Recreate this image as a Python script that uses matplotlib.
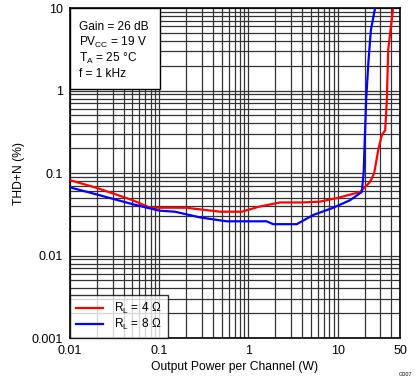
import matplotlib
matplotlib.use('Agg')
import numpy as np
import matplotlib.pyplot as plt
from matplotlib.ticker import LogLocator, NullFormatter, FixedLocator

plt.rcParams['font.family'] = ['Liberation Sans', 'DejaVu Sans']

# THD+N vs output power
power_4ohm = [0.01, 0.02, 0.05, 0.079, 0.2, 0.48, 0.84, 1.3, 2.26, 4.0, 6.3, 10.0, 17.8,
              23.0, 25.6, 28.4, 31.2, 34.0, 35.5, 36.7, 41.5]
thd_4ohm = [0.082, 0.066, 0.047, 0.038, 0.038, 0.034, 0.034, 0.039, 0.044, 0.044, 0.045,
            0.050, 0.059, 0.078, 0.10, 0.19, 0.29, 0.33, 0.77, 3.1, 9.5]

power_8ohm = [0.01, 0.02, 0.05, 0.1, 0.15, 0.286, 0.57, 1.0, 1.6, 1.89, 3.47, 5.3, 8.9,
              13.8, 18.6, 19.5, 19.9, 20.8, 22.1, 23.5, 26.2]
thd_8ohm = [0.067, 0.055, 0.042, 0.035, 0.034, 0.029, 0.026, 0.026, 0.026, 0.024, 0.024,
            0.031, 0.038, 0.047, 0.059, 0.10, 0.19, 0.77, 2.3, 5.4, 10.0]

x_ticks = [0.01, 0.1, 1, 10, 50]
x_labels = ['0.01', '0.1', '1', '10', '50']
y_ticks = [0.001, 0.01, 0.1, 1, 10]
y_labels = ['0.001', '0.01', '0.1', '1', '10']

fig = plt.figure(figsize=(4.19, 3.82), dpi=100)
ax = fig.add_axes([0.167, 0.115, 0.788, 0.864])

ax.plot(power_4ohm, thd_4ohm, color='#ff0000', lw=1.6, label='R$_\\mathregular{L}$ = 4 Ω', zorder=3)
ax.plot(power_8ohm, thd_8ohm, color='#0000ff', lw=1.6, label='R$_\\mathregular{L}$ = 8 Ω', zorder=3)

ax.set_xscale('log')
ax.set_yscale('log')
ax.set_xlim(0.01, 50)
ax.set_ylim(0.001, 10)

ax.xaxis.set_major_locator(FixedLocator(x_ticks))
ax.set_xticklabels(x_labels)
ax.xaxis.set_minor_locator(LogLocator(base=10, subs=np.arange(2, 10)))
ax.xaxis.set_minor_formatter(NullFormatter())
ax.yaxis.set_major_locator(FixedLocator(y_ticks))
ax.set_yticklabels(y_labels)
ax.yaxis.set_minor_locator(LogLocator(base=10, subs=np.arange(2, 10)))
ax.yaxis.set_minor_formatter(NullFormatter())

ax.grid(True, which='both', color='#333333', lw=0.9)
ax.tick_params(which='both', length=0, labelsize=9, pad=5)
for s in ax.spines.values():
    s.set_color('black')
    s.set_linewidth(1.2)

ax.set_xlabel('Output Power per Channel (W)', fontsize=8.7, labelpad=3)
ax.set_ylabel('THD+N (%)', fontsize=8.7, labelpad=5)

ax.text(0.0125, 7.0,
        'Gain = 26 dB\nPV$_\\mathregular{CC}$ = 19 V\nT$_\\mathregular{A}$ = 25 °C\nf = 1 kHz',
        fontsize=8.6, va='top', ha='left', linespacing=1.15, zorder=5)
ax.add_patch(plt.Rectangle((0, 0.755), 0.273, 0.245, transform=ax.transAxes,
                           facecolor='white', edgecolor='black', lw=1.0, zorder=4))

leg = ax.legend(loc='lower left', fontsize=8.6, frameon=True, fancybox=False,
                borderaxespad=0, handlelength=2.3, labelspacing=0.1,
                borderpad=0.5, handletextpad=0.9)
leg.get_frame().set_edgecolor('black')
leg.get_frame().set_linewidth(1.0)
leg.set_zorder(6)

fig.text(0.985, 0.012, 'G007', fontsize=4, ha='right', va='bottom')

plt.savefig('out.png', dpi=100)
